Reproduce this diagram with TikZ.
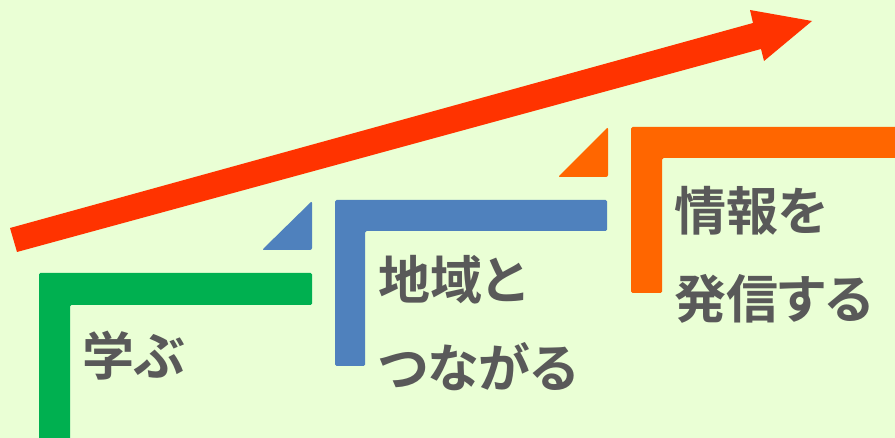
\documentclass[tikz,border=0pt]{standalone}
\usepackage{fontspec}
\newfontfamily\jp{Noto Sans CJK JP}[BoldFont={* Bold},RawFeature=+palt]
\definecolor{bgc}{HTML}{EAFFD5}
\definecolor{arrowc}{HTML}{FF3300}
\definecolor{greenc}{HTML}{00B050}
\definecolor{bluec}{HTML}{4F81BD}
\definecolor{orangec}{HTML}{FF6600}
\definecolor{textc}{HTML}{595959}
\begin{document}
\begin{tikzpicture}[x=1pt,y=-1pt,
  label/.style={anchor=west,inner sep=0pt,text=textc,font=\jp\bfseries\fontsize{52}{52}\selectfont},
  bar/.style={rounded corners=1.5pt}]
\fill[bgc] (0,0) rectangle (895,438);
\useasboundingbox (0,0) rectangle (895,438);
% big arrow
\fill[arrowc] (10,228) -- (753,23) -- (750,10) -- (812,21) -- (764,61) -- (761,49) -- (17,252) -- cycle;
% green bracket
\fill[greenc,bar] (39,440) -- (39,273) -- (312,273) -- (312,305) -- (70,305) -- (70,440) -- cycle;
% blue bracket
\fill[bluec,bar] (335,366) -- (335,200) -- (607,200) -- (607,231) -- (365,231) -- (365,366) -- cycle;
\fill[bluec,rounded corners=2pt] (262,250) -- (312,201) -- (312,250) -- cycle;
% orange bracket
\fill[orangec,bar] (631,293) -- (631,127) -- (897,127) -- (897,158) -- (662,158) -- (662,293) -- cycle;
\fill[orangec,rounded corners=2pt] (558,177) -- (608,127) -- (608,177) -- cycle;
% labels
\node[label] (manabu) at (82,356) {学ぶ};
\node[label] (chiiki) at (378,280) {地域と};
\node[label] (tsunagaru) at (378,367) {つながる};
\node[label] (jouhou) at (674,211) {情報を};
\node[label] (hasshin) at (674,299) {発信する};
\end{tikzpicture}
\end{document}
